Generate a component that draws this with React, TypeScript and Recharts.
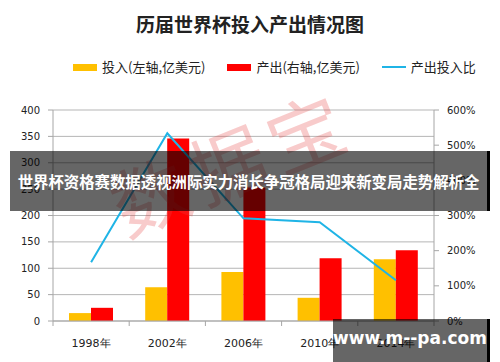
import { ComposedChart, Bar, Line, XAxis, YAxis, CartesianGrid } from 'recharts';

const categories = ['1998年', '2002年', '2006年', '2010年', '2014年'];
const investment = [15, 64, 93, 44, 117];
const output = [25, 346, 253, 119, 134];
const ratio = [1.67, 5.34, 2.92, 2.81, 1.16];
const leftTicks = [0, 50, 100, 150, 200, 250, 300, 350, 400];
const rightTicks = [0, 1, 2, 3, 4, 5, 6];

const data = categories.map((name, i) => ({
  name,
  investment: investment[i],
  output: output[i],
  ratio: ratio[i],
}));

const AXIS = '#a6a6a6';
const TICK_FONT = '"DejaVu Sans", Verdana, sans-serif';
const CJK = '"Noto Sans CJK SC", "Noto Sans", sans-serif';
const HALF_BAND = 38.1;

function CategoryTick(props: any) {
  const { x, y, payload, index } = props;
  return (
    <g>
      <line x1={x - HALF_BAND} y1={y} x2={x - HALF_BAND} y2={y + 5} stroke={AXIS} />
      {index === categories.length - 1 && (
        <line x1={x + HALF_BAND} y1={y} x2={x + HALF_BAND} y2={y + 5} stroke={AXIS} />
      )}
      <text x={x} y={y + 26} textAnchor="middle" fontSize={11} fill="#222" fontFamily={TICK_FONT}>
        {payload.value}
      </text>
    </g>
  );
}

function LegendRow() {
  const items = [
    { label: '投入(左轴,亿美元)', color: '#FFC000', kind: 'bar' },
    { label: '产出(右轴,亿美元)', color: '#FF0000', kind: 'bar' },
    { label: '产出投入比', color: '#1FB4E6', kind: 'line' },
  ];
  return (
    <div
      style={{
        position: 'absolute',
        top: 58,
        left: 73,
        display: 'flex',
        gap: 22,
        fontFamily: CJK,
        fontSize: 13,
        color: '#222',
        lineHeight: '18px',
      }}
    >
      {items.map((it) => (
        <div key={it.label} style={{ display: 'flex', alignItems: 'center', gap: 5 }}>
          <div
            style={{
              width: 24,
              height: it.kind === 'bar' ? 7 : 2,
              backgroundColor: it.color,
            }}
          />
          <span>{it.label}</span>
        </div>
      ))}
    </div>
  );
}

export default function App() {
  return (
    <div style={{ position: 'absolute', left: 0, top: 0, width: 500, height: 362, background: '#fff', overflow: 'hidden' }}>
      <div
        style={{
          position: 'absolute',
          top: 10,
          width: 500,
          textAlign: 'center',
          fontFamily: CJK,
          fontWeight: 700,
          fontSize: 19,
          color: '#222',
          lineHeight: '28px',
        }}
      >
        历届世界杯投入产出情况图
      </div>
      <LegendRow />

      <ComposedChart
        width={500}
        height={362}
        data={data}
        margin={{ top: 110, right: 0, bottom: 0, left: 0 }}
        barGap={0}
        style={{ position: 'absolute', left: 0, top: 0 }}
      >
        <CartesianGrid yAxisId="left" vertical={false} stroke="#b5b5b5" />
        <XAxis
          dataKey="name"
          height={41}
          tickSize={0}
          tickMargin={0}
          stroke={AXIS}
          tick={<CategoryTick />}
          interval={0}
        />
        <YAxis
          yAxisId="left"
          width={53}
          domain={[0, 400]}
          ticks={leftTicks}
          tickSize={5}
          tickMargin={8}
          stroke={AXIS}
          tick={{ fontSize: 10, fill: '#222', fontFamily: TICK_FONT }}
        />
        <YAxis
          yAxisId="right"
          orientation="right"
          width={66}
          domain={[0, 6]}
          ticks={rightTicks}
          tickSize={5}
          tickMargin={8}
          stroke={AXIS}
          tickFormatter={(v: number) => `${Math.round(v * 100)}%`}
          tick={{ fontSize: 10, fill: '#222', fontFamily: TICK_FONT }}
        />
        <Bar yAxisId="left" dataKey="investment" fill="#FFC000" barSize={22} isAnimationActive={false} />
        <Bar yAxisId="left" dataKey="output" fill="#FF0000" barSize={22} isAnimationActive={false} />
        <Line
          yAxisId="right"
          dataKey="ratio"
          stroke="#1FB4E6"
          strokeWidth={2}
          dot={false}
          isAnimationActive={false}
        />
      </ComposedChart>

      {/* watermark */}
      <div
        style={{
          position: 'absolute',
          left: 100,
          top: 120,
          width: 260,
          textAlign: 'center',
          fontFamily: CJK,
          fontSize: 76,
          letterSpacing: 8,
          color: 'rgba(230, 70, 70, 0.28)',
          transform: 'rotate(-22deg)',
          lineHeight: '80px',
          pointerEvents: 'none',
        }}
      >
        数据宝
      </div>

      {/* banner */}
      <div
        style={{
          position: 'absolute',
          left: 10,
          top: 151,
          width: 477,
          height: 60,
          background: 'rgba(0, 0, 0, 0.6)',
          borderRight: '3px solid #000',
          color: '#fff',
          fontFamily: CJK,
          fontWeight: 700,
          fontSize: 15.4,
          lineHeight: '60px',
          textAlign: 'center',
          whiteSpace: 'nowrap',
          letterSpacing: 0,
        }}
      >
        世界杯资格赛数据透视洲际实力消长争冠格局迎来新变局走势解析全
      </div>

      <div
        style={{
          position: 'absolute',
          left: 333,
          top: 319,
          width: 154,
          height: 43,
          background: 'rgba(0, 0, 0, 0.6)',
          borderRight: '3px solid #000',
          color: '#fff',
          fontFamily: '"DejaVu Sans", Verdana, sans-serif',
          fontWeight: 700,
          fontSize: 17,
          lineHeight: '38px',
          textAlign: 'center',
          whiteSpace: 'nowrap',
        }}
      >
        www.m--pa.com
      </div>
    </div>
  );
}
